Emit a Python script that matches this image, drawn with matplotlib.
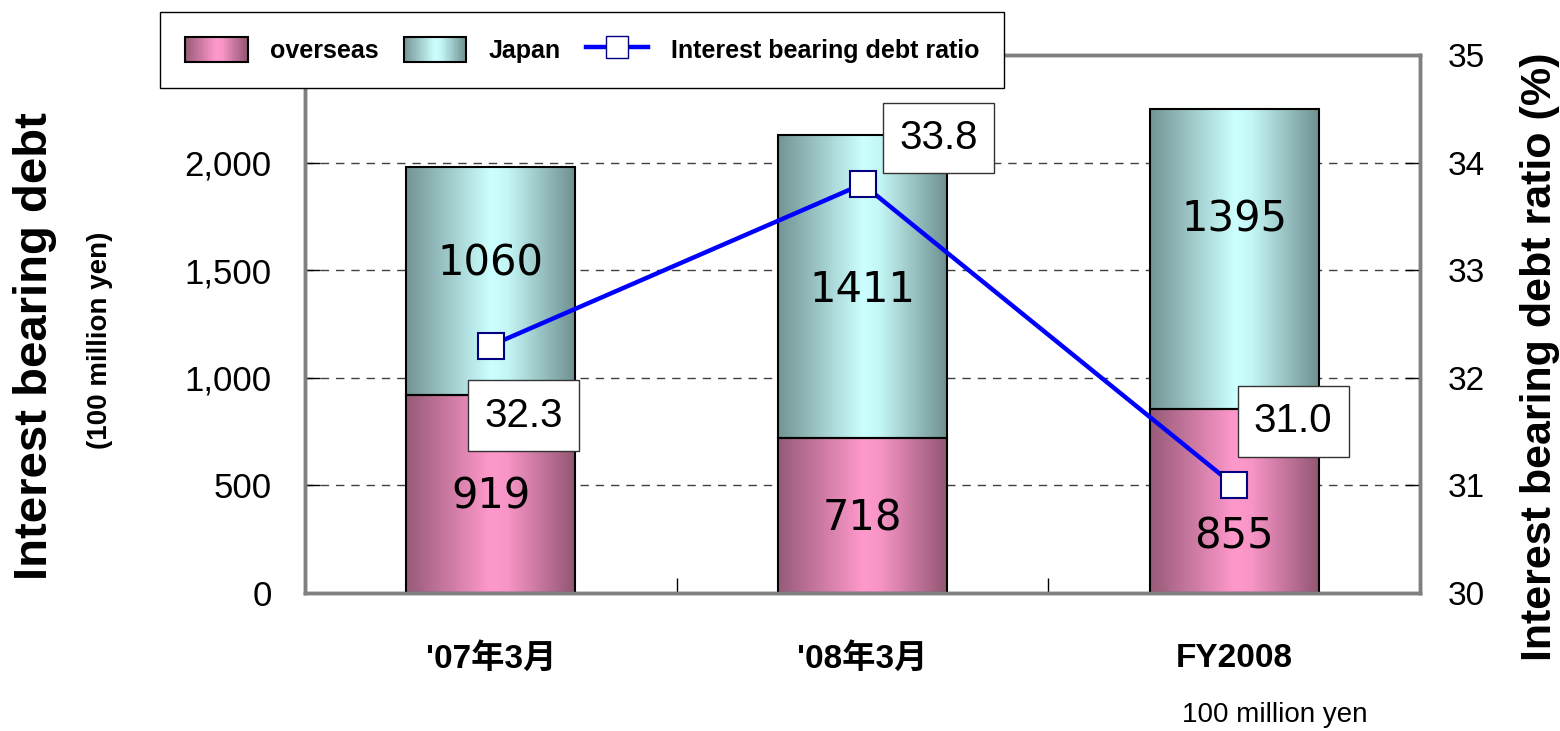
import numpy as np
import matplotlib.pyplot as plt
from matplotlib.colors import LinearSegmentedColormap
from matplotlib.patches import Patch, Rectangle
from matplotlib.lines import Line2D
from matplotlib.legend_handler import HandlerBase
from matplotlib.ticker import FuncFormatter

plt.rcParams['font.family'] = ['Liberation Sans', 'Noto Sans CJK JP']

categories = ["'07年3月", "'08年3月", "FY2008"]
overseas = [919, 718, 855]
japan = [1060, 1411, 1395]
ratio = [32.3, 33.8, 31.0]

# label nudges (data units / pixels)
japan_shift = [84, -15, 181]
overseas_shift = [-13, -11, -167]
ratio_offsets = [(33, -70), (76, 46), (59, 64)]

pink = LinearSegmentedColormap.from_list(
    'pink', [(0, '#975a77'), (0.5, '#ff99cc'), (0.6, '#f795c6'), (1, '#925572')])
cyan = LinearSegmentedColormap.from_list(
    'cyan', [(0, '#739494'), (0.5, '#ccffff'), (0.6, '#c4f6f6'), (1, '#6e8f8f')])


class GradientHandler(HandlerBase):
    def __init__(self, cmap):
        super().__init__()
        self.cmap = cmap

    def create_artists(self, legend, orig_handle, xdescent, ydescent, width, height, fontsize, trans):
        n = 40
        out = []
        for k in range(n):
            r = Rectangle((-xdescent + width * k / n, -ydescent), width / n + 0.3, height,
                          fc=self.cmap((k + 0.5) / n), ec='none', transform=trans)
            out.append(r)
        out.append(Rectangle((-xdescent, -ydescent), width, height, fc='none', ec='black',
                             lw=1.5, transform=trans))
        return out


fig = plt.figure(figsize=(15.6, 7.31), dpi=100)
ax = fig.add_axes([305/1560, 138/731, 1115/1560, 538/731])
ax2 = ax.twinx()

x = np.arange(len(categories))
w = 0.455
b1 = ax.bar(x, overseas, width=w, facecolor='none', edgecolor='black', lw=1.5, zorder=3)
b2 = ax.bar(x, japan, width=w, bottom=overseas, facecolor='none', edgecolor='black', lw=1.5, zorder=3)

grad = np.linspace(0, 1, 256).reshape(1, -1)
for bars, cm in ((b1, pink), (b2, cyan)):
    for p in bars:
        x0, y0 = p.get_xy()
        ax.imshow(grad, cmap=cm, extent=[x0, x0 + p.get_width(), y0, y0 + p.get_height()],
                  aspect='auto', zorder=2, interpolation='bilinear')

ax.set_xlim(-0.5, 2.5)
ax.set_ylim(0, 2500)
ax.set_yticks([0, 500, 1000, 1500, 2000])
ax.yaxis.set_major_formatter(FuncFormatter(lambda v, p: f'{int(v):,}'))
ax.yaxis.grid(True, ls=(0, (6, 5)), color='#404040', lw=1)
ax.set_axisbelow(True)
ax.tick_params(axis='y', direction='in', length=11, width=1, labelsize=25, pad=24)

ax.set_xticks(x, categories)
ax.set_xticks([0.5, 1.5], minor=True)
ax.tick_params(axis='x', which='major', length=0, pad=36, labelsize=24)
ax.tick_params(axis='x', which='minor', direction='in', length=11, width=1)
for t in ax.get_xticklabels():
    t.set_fontweight('bold')

for i in range(len(categories)):
    ax.text(x[i], overseas[i] / 2 + overseas_shift[i], str(overseas[i]), ha='center', va='center',
            fontsize=30, family='DejaVu Sans', zorder=4)
    ax.text(x[i], overseas[i] + japan[i] / 2 + japan_shift[i], str(japan[i]), ha='center', va='center',
            fontsize=30, family='DejaVu Sans', zorder=4)

ax2.set_ylim(30, 35)
ax2.set_yticks([30, 31, 32, 33, 34, 35])
ax2.tick_params(axis='y', direction='in', length=11, width=1, labelsize=24, pad=20)
ax2.plot(x, ratio, color='#0000ff', lw=3.2, marker='s', ms=19, mfc='white', mec='#000080',
         mew=1.5, zorder=5)
for i in range(len(categories)):
    ax2.annotate(f'{ratio[i]:.1f}', (x[i], ratio[i]), xytext=ratio_offsets[i],
                 textcoords='offset pixels', ha='center', va='center', fontsize=29, zorder=6,
                 bbox=dict(boxstyle='square,pad=0.4', fc='white', ec='#333333', lw=1))

for a in (ax, ax2):
    for s in a.spines.values():
        s.set_color('#808080')
        s.set_linewidth(2.5)

fig.text(35/1560, 1 - 346/731, 'Interest bearing debt', rotation=90, ha='center', va='center',
         fontsize=34, fontweight='bold')
fig.text(100/1560, 1 - 340/731, '(100 million yen)', rotation=90, ha='center', va='center',
         fontsize=20, fontweight='bold')
fig.text(1540/1560, 1 - 357/731, 'Interest bearing debt ratio (%)', rotation=90, ha='center',
         va='center', fontsize=31, fontweight='bold')
fig.text(1275/1560, 1 - 715/731, '100 million yen', ha='center', va='center', fontsize=20)

h_pink = Patch(fc='#f090c0', ec='black')
h_cyan = Patch(fc='#c0f0f0', ec='black')
h_line = Line2D([], [], color='#0000ff', lw=3.2, marker='s', ms=16, mfc='white', mec='#000080')
leg = ax2.legend([h_pink, h_cyan, h_line], ['overseas', 'Japan', 'Interest bearing debt ratio'],
                 handler_map={h_pink: GradientHandler(pink), h_cyan: GradientHandler(cyan)},
                 loc='upper left', bbox_to_anchor=(160/1560, 1 - 12/731),
                 bbox_transform=fig.transFigure, ncol=3, frameon=True, fancybox=False,
                 edgecolor='black', framealpha=1, borderaxespad=0,
                 prop={'weight': 'bold', 'size': 18}, handlelength=2.5, handleheight=1.15,
                 columnspacing=1.0, handletextpad=0.9, borderpad=1.0)
leg.get_frame().set_linewidth(1)

fig.savefig('out.png', dpi=100)
